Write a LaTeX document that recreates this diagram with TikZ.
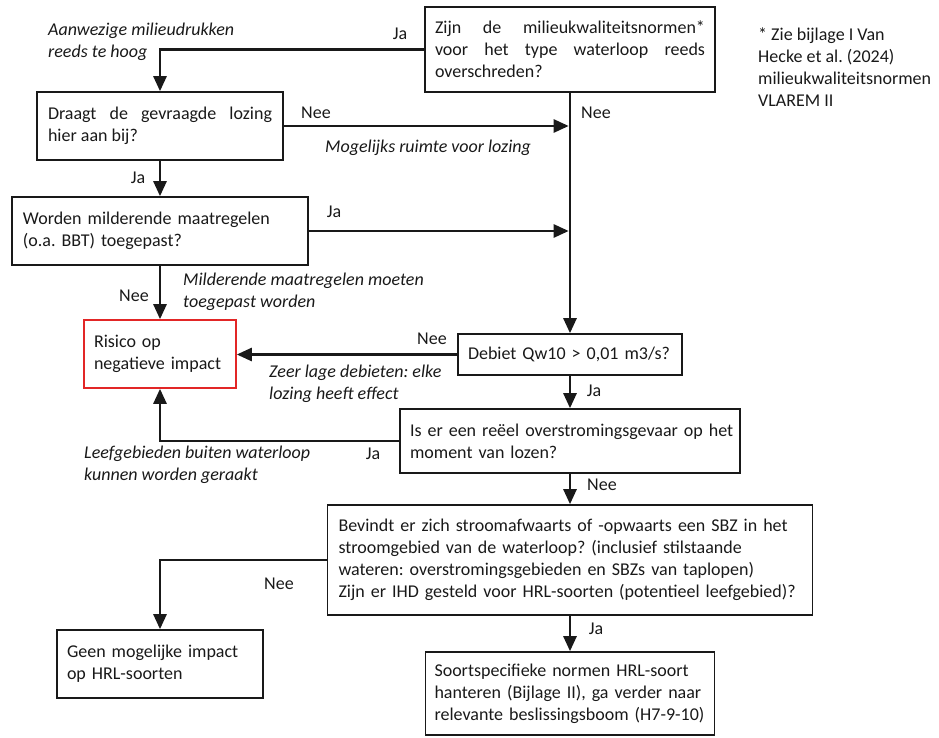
\documentclass[tikz,border=0pt]{standalone}
\usepackage{fontspec}
\setmainfont{Carlito}
\usetikzlibrary{arrows.meta}
\definecolor{ink}{RGB}{25,25,25}
\definecolor{riskred}{RGB}{226,38,38}
\frenchspacing
\begin{document}
\frenchspacing
\begin{tikzpicture}[x=1pt,y=-1pt,
  every node/.style={font=\fontsize{18}{22}\selectfont\frenchspacing, text=ink},
  box/.style={draw=ink, line width=1.6pt, rectangle, inner ysep=0pt, align=left},
  conn/.style={line width=2.6pt, draw=ink, -{Triangle[length=15pt,width=13pt]}},
  lbl/.style={anchor=base, inner sep=0pt},
  note/.style={anchor=base west, inner sep=0pt, align=left, font=\fontsize{18}{22}\selectfont\itshape}]
\useasboundingbox (0,0) rectangle (939,738);

% boxes
\node[box, minimum width=290pt, minimum height=85pt, text width=270pt, inner xsep=10pt, align=justify] (q1) at (570,49.5)
  {Zijn de milieukwaliteitsnormen*\linebreak voor het type waterloop reeds\linebreak overschreden?};
\node[box, minimum width=246pt, minimum height=68pt, text width=224pt, inner xsep=11pt, align=justify] (q2) at (160,126)
  {Draagt de gevraagde lozing\linebreak hier aan bij?};
\node[box, minimum width=296pt, minimum height=68pt, text width=274pt, inner xsep=11pt] (q3) at (160,231)
  {Worden milderende maatregelen\\(o.a. BBT) toegepast?};
\node[box, draw=riskred, minimum width=152pt, minimum height=68pt, text width=132pt, inner xsep=10pt] (risk) at (160,354)
  {Risico op\\negatieve impact};
\node[box, minimum width=224pt, minimum height=41pt, text width=204pt, inner xsep=10pt] (q4) at (570,354.5)
  {Debiet Qw10 > 0,01 m3/s?};
\node[box, minimum width=340pt, minimum height=64pt, text width=320pt, inner xsep=10pt] (q5) at (570,441)
  {\mbox{Is er een reëel overstromingsgevaar op het}\\moment van lozen?};
\node[box, minimum width=485pt, minimum height=110pt, text width=463pt, inner xsep=11pt] (q6) at (570,560)
  {\mbox{Bevindt er zich stroomafwaarts of -opwaarts een SBZ in het}\\
   \mbox{stroomgebied van de waterloop? (inclusief stilstaande}\\
   \mbox{wateren: overstromingsgebieden en SBZs van taplopen)}\\
   \mbox{Zijn er IHD gesteld voor HRL-soorten (potentieel leefgebied)?}};
\node[box, minimum width=206pt, minimum height=68pt, text width=186pt, inner xsep=10pt] (none) at (160,664)
  {Geen mogelijke impact\\op HRL-soorten};
\node[box, minimum width=289pt, minimum height=83pt, text width=271pt, inner xsep=9pt] (res) at (570,693.5)
  {\mbox{Soortspecifieke normen HRL-soort}\\\mbox{hanteren (Bijlage II), ga verder naar}\\\mbox{relevante beslissingsboom (H7-9-10)}};

% connectors
\draw[conn] (q1.west) -| (q2.north);
\draw[conn] (q1.south) -- (q4.north);
\draw[conn, shorten >=1.3pt] (q2.east) -- (q2.east -| q1.south);
\draw[conn] (q2.south) -- (q3.north);
\draw[conn, shorten >=1.3pt] (q3.east) -- (q3.east -| q1.south);
\draw[conn] (q3.south) -- (risk.north);
\draw[conn] (q4.west) -- (q4.west -| risk.east);
\draw[conn] (q4.south) -- (q5.north);
\draw[conn] (q5.west) -| (risk.south);
\draw[conn] (q5.south) -- (q6.north);
\draw[conn] (q6.west) -| (none.north);
\draw[conn] (q6.south) -- (res.north);

% edge labels
\node[lbl] (l1) at (400,40) {Ja};
\node[lbl] (l2) at (316,119) {Nee};
\node[lbl] (l3) at (596,119) {Nee};
\node[lbl] (l4) at (138,184) {Ja};
\node[lbl] (l5) at (334,218) {Ja};
\node[lbl] (l6) at (134,301) {Nee};
\node[lbl] (l7) at (432,344) {Nee};
\node[lbl] (l8) at (594,396) {Ja};
\node[lbl] (l9) at (373,459) {Ja};
\node[lbl] (l10) at (602,490) {Nee};
\node[lbl] (l11) at (279,589) {Nee};
\node[lbl] (l12) at (596,634) {Ja};

% italic notes (anchor = baseline of last line)
\node[note] (n1) at (48,58) {Aanwezige milieudrukken\\reeds te hoog};
\node[note] (n2) at (325,153) {Mogelijks ruimte voor lozing};
\node[note] (n3) at (183,307) {Milderende maatregelen moeten\\toegepast worden};
\node[note] (n4) at (269,399) {Zeer lage debieten: elke\\lozing heeft effect};
\node[note] (n5) at (84,480) {Leefgebieden buiten waterloop\\kunnen worden geraakt};

% footnote
\node[note, font=\fontsize{18}{22}\selectfont] (fn) at (758,107)
  {* Zie bijlage I Van\\Hecke et al. (2024)\\milieukwaliteitsnormen\\VLAREM II};
\end{tikzpicture}
\end{document}
